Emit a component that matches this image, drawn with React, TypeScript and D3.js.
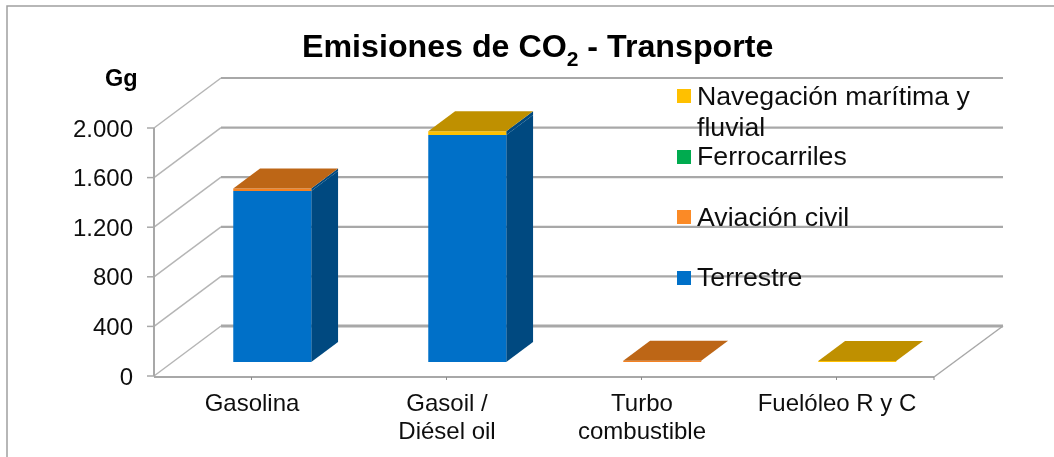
import React from "react";
import * as d3 from "d3";

const categories = ["Gasolina", "Gasoil /\nDiésel oil", "Turbo\ncombustible", "Fuelóleo R y C"];
const seriesNames = ["Terrestre", "Aviación civil", "Ferrocarriles", "Navegación marítima y\nfluvial"];
const terrestre = [1380, 1830, 0, 0];
const aviacion = [20, 0, 10, 0];
const ferrocarriles = [0, 0, 0, 0];
const navegacion = [0, 30, 0, 8];
const yTicks = [0, 400, 800, 1200, 1600, 2000];
const yTickLabels = ["0", "400", "800", "1.200", "1.600", "2.000"];

const frontColors = ["#0070c8", "#f58220", "#00a850", "#ffc000"];
const legendColors = ["#0070c8", "#fb8a26", "#00ab50", "#ffc000"];
const topColors = ["#005a9e", "#bd6618", "#00803c", "#bf9000"];
const sideColor = "#004a80";
const FONT = "'Liberation Sans', Arial, sans-serif";

const x = d3.scaleBand<number>().domain(d3.range(categories.length)).range([154, 934]);
const y = d3.scaleLinear().domain([0, 2000]).range([376, 128]);
const depthX = d3.scaleLinear().domain([0, 1]).range([0, 67]);
const depthY = d3.scaleLinear().domain([0, 1]).range([0, -50]);
const P = (px: number, py: number, d: number) => `${px + depthX(d)},${py + depthY(d)}`;
const DEPTH_FRONT = 0.28;
const DEPTH_BACK = 0.68;
const BAR_SHIFT = 2;
const BAR_W = x.bandwidth() * 0.4;

const rows = categories.map((_, i) => ({
  i,
  s0: terrestre[i],
  s1: aviacion[i],
  s2: ferrocarriles[i],
  s3: navegacion[i],
}));
const stacked = d3.stack<any>().keys(["s0", "s1", "s2", "s3"])(rows);

function Bars() {
  return (
    <g>
      {categories.map((_, i) => {
        const left = x(i)! + (x.bandwidth() - BAR_W) / 2 + BAR_SHIFT;
        const right = left + BAR_W;
        const segs = stacked.map((layer, k) => ({ k, a: layer[i][0], b: layer[i][1] })).filter((s) => s.b > s.a);
        const last = segs[segs.length - 1];
        const yTop = y(last.b);
        const hasBody = terrestre[i] > 0;
        return (
          <g key={i}>
            {segs.map((s) => (
              <g key={s.k}>
                {hasBody && (
                  <polygon
                    points={[P(right, y(s.a), DEPTH_FRONT), P(right, y(s.a), DEPTH_BACK), P(right, y(s.b), DEPTH_BACK), P(right, y(s.b), DEPTH_FRONT)].join(" ")}
                    fill={sideColor}
                  />
                )}
                <polygon
                  points={[P(left, y(s.a), DEPTH_FRONT), P(right, y(s.a), DEPTH_FRONT), P(right, y(s.b), DEPTH_FRONT), P(left, y(s.b), DEPTH_FRONT)].join(" ")}
                  fill={frontColors[s.k]}
                />
              </g>
            ))}
            <polygon
              points={[P(left, yTop, DEPTH_FRONT), P(right, yTop, DEPTH_FRONT), P(right, yTop, DEPTH_BACK), P(left, yTop, DEPTH_BACK)].join(" ")}
              fill={topColors[last.k]}
            />
          </g>
        );
      })}
    </g>
  );
}

export default function App() {
  const gridColor = "#a8a8a8";
  const legendOrder = [3, 2, 1, 0];
  const legendY = [96, 157, 217, 278];
  const legendBase = [105, 165, 226, 286];
  const backRight = 1003;
  return (
    <svg width={1054} height={457} style={{ position: "absolute", left: 0, top: 0, background: "#fff" }} fontFamily={FONT}>
      <defs>
        <filter id="soft" x="0" y="0" width="100%" height="100%">
          <feGaussianBlur stdDeviation={0.45} />
        </filter>
      </defs>
      <g filter="url(#soft)">
        <rect width={1054} height={457} fill="#fff" />
        <path d="M7,457 V6 H1054" fill="none" stroke="#a0a0a0" strokeWidth={1.5} />

        {/* walls */}
        {yTicks.map((t) => (
          <g key={t} stroke={gridColor} fill="none">
            <line x1={154} y1={y(t)} x2={154 + depthX(1)} y2={y(t) + depthY(1)} strokeWidth={1.5} strokeOpacity={0.85} />
            <line x1={154 + depthX(1)} y1={y(t) + depthY(1)} x2={backRight} y2={y(t) + depthY(1)} strokeWidth={t === 0 ? 3 : 2.2} />
            <line x1={147} y1={y(t)} x2={154} y2={y(t)} strokeWidth={1.5} />
          </g>
        ))}
        <g stroke={gridColor} fill="none" strokeWidth={2}>
          <line x1={154} y1={y(0)} x2={154} y2={y(2000)} />
          <line x1={154} y1={y(0) + 1} x2={934} y2={y(0) + 1} />
          <line x1={934} y1={y(0) + 1} x2={backRight} y2={y(0) + depthY(1)} strokeWidth={1.5} />
        </g>
        {d3.range(categories.length + 1).map((i) => {
          const px = i === categories.length ? 934 : x(i)! + x.bandwidth() / 2;
          return <line key={i} x1={px} x2={px} y1={y(0) + 1} y2={y(0) + 4} stroke="#8c8c8c" strokeWidth={1} />;
        })}

        <Bars />

        {/* y labels */}
        {yTicks.map((t, i) => (
          <text key={t} x={133} y={y(t)} dy="0.36em" textAnchor="end" fontSize={24} fill="#111">
            {yTickLabels[i]}
          </text>
        ))}

        {/* x labels */}
        {categories.map((c, i) =>
          c.split("\n").map((line, j) => (
            <text key={line} x={x(i)! + x.bandwidth() / 2 + 0.5} y={411 + j * 28} textAnchor="middle" fontSize={24} fill="#111">
              {line}
            </text>
          ))
        )}

        {/* legend */}
        {legendOrder.map((k, idx) => (
          <g key={k}>
            <rect x={677} y={legendY[idx] - 7} width={14} height={14} fill={legendColors[k]} />
            {seriesNames[k].split("\n").map((line, j) => (
              <text key={line} x={697} y={legendBase[idx] + j * 31} fontSize={26.7} fill="#111">
                {line}
              </text>
            ))}
          </g>
        ))}

        {/* title */}
        <text x={302} y={57} fontSize={32.2} fontWeight="bold" fill="#000">
          Emisiones de CO
          <tspan fontSize={21} dy={9}>2</tspan>
          <tspan dy={-9}> - Transporte</tspan>
        </text>
        <text x={105} y={86} fontSize={23.5} fontWeight="bold" fill="#000">Gg</text>
      </g>
    </svg>
  );
}
